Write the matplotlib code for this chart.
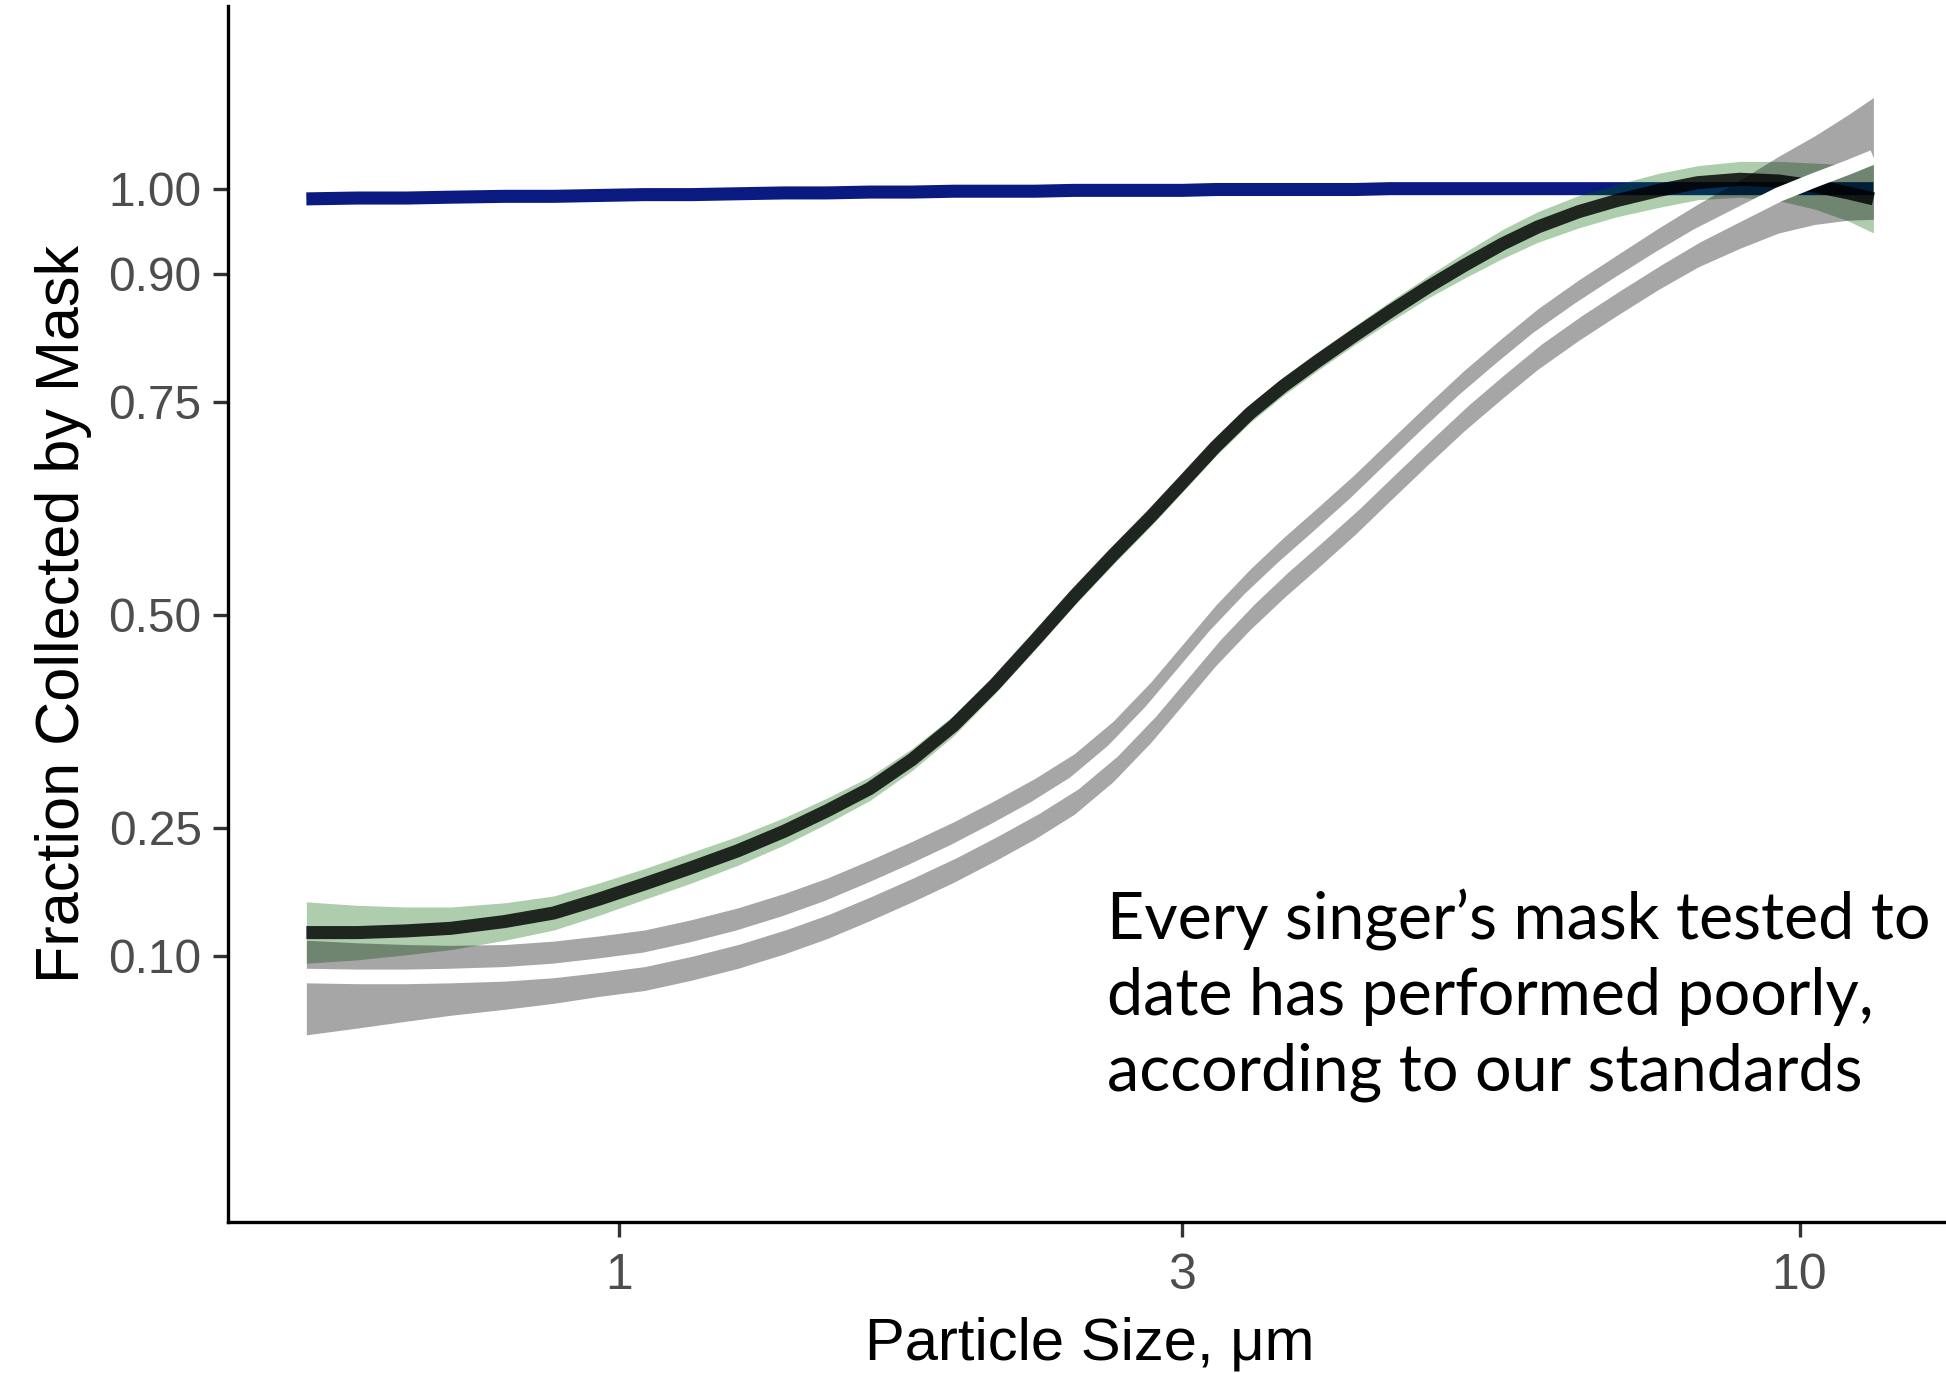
import matplotlib
matplotlib.use("Agg")
import matplotlib.pyplot as plt
import numpy as np
from matplotlib.ticker import FixedLocator, NullLocator

size = [0.543, 0.6, 0.66, 0.72, 0.8, 0.88, 0.96, 1.05, 1.15, 1.26,
        1.38, 1.5, 1.63, 1.77, 1.92, 2.08, 2.25, 2.43, 2.62, 2.82,
        3.0, 3.2, 3.42, 3.65, 3.9, 4.2, 4.5, 4.85, 5.2, 5.6,
        6.0, 6.5, 7.0, 7.6, 8.2, 8.9, 9.6, 10.3, 11.0, 11.55]

# reference respirator (blue)
blue = [0.988, 0.989, 0.989, 0.990, 0.991, 0.991, 0.992, 0.993, 0.993, 0.994,
        0.995, 0.995, 0.996, 0.996, 0.997, 0.997, 0.997, 0.998, 0.998, 0.998,
        0.998, 0.999, 0.999, 0.999, 0.999, 0.999, 1.000, 1.000, 1.000, 1.000,
        1.000, 1.000, 1.000, 1.000, 1.000, 1.000, 1.000, 1.000, 1.000, 1.000]

# standard mask: fit (black) and CI half width (green)
black = [0.127, 0.127, 0.129, 0.132, 0.140, 0.150, 0.166, 0.184, 0.203, 0.223,
         0.246, 0.270, 0.296, 0.330, 0.370, 0.418, 0.470, 0.522, 0.570, 0.615,
         0.655, 0.697, 0.736, 0.768, 0.797, 0.828, 0.856, 0.885, 0.910, 0.935,
         0.955, 0.973, 0.986, 0.998, 1.007, 1.011, 1.009, 1.003, 0.995, 0.988]
green_hw = [0.036, 0.032, 0.028, 0.025, 0.022, 0.020, 0.019, 0.018, 0.018, 0.017,
            0.016, 0.015, 0.014, 0.013, 0.012, 0.011, 0.011, 0.011, 0.011, 0.011,
            0.011, 0.011, 0.011, 0.011, 0.011, 0.011, 0.012, 0.013, 0.015, 0.017,
            0.018, 0.019, 0.019, 0.020, 0.020, 0.021, 0.023, 0.027, 0.033, 0.040]

# singer's masks: fit (white) and CI above / below (grey)
white = [0.076, 0.075, 0.075, 0.076, 0.078, 0.082, 0.088, 0.095, 0.107, 0.121,
         0.138, 0.156, 0.177, 0.199, 0.222, 0.247, 0.273, 0.302, 0.340, 0.386,
         0.430, 0.476, 0.518, 0.555, 0.590, 0.630, 0.670, 0.713, 0.752, 0.790,
         0.824, 0.858, 0.887, 0.918, 0.945, 0.970, 0.993, 1.010, 1.025, 1.037]
grey_up = [0.042, 0.040, 0.038, 0.036, 0.035, 0.035, 0.035, 0.035, 0.035, 0.035,
           0.035, 0.035, 0.035, 0.035, 0.035, 0.035, 0.035, 0.035, 0.035, 0.035,
           0.035, 0.035, 0.035, 0.035, 0.035, 0.035, 0.035, 0.035, 0.035, 0.035,
           0.035, 0.035, 0.035, 0.036, 0.037, 0.040, 0.045, 0.052, 0.062, 0.070]
grey_dn = [0.069, 0.060, 0.052, 0.046, 0.041, 0.038, 0.036, 0.036, 0.036, 0.036,
           0.036, 0.036, 0.036, 0.036, 0.036, 0.036, 0.036, 0.036, 0.036, 0.036,
           0.036, 0.036, 0.036, 0.036, 0.036, 0.036, 0.036, 0.036, 0.036, 0.036,
           0.036, 0.036, 0.036, 0.036, 0.037, 0.040, 0.045, 0.052, 0.062, 0.073]

y_ticks = [0.10, 0.25, 0.50, 0.75, 0.90, 1.00]
y_labels = ["0.10", "0.25", "0.50", "0.75", "0.90", "1.00"]
x_ticks = [1, 3, 10]
x_labels = ["1", "3", "10"]

note = "Every singer\u2019s mask tested to\ndate has performed poorly,\naccording to our standards"

black_a = np.array(black)
white_a = np.array(white)

fig = plt.figure(figsize=(19.46, 13.73), dpi=100)
ax = fig.add_axes([0.1172, 0.110, 0.886, 0.8856])

ax.plot(size, blue, color="#0a1a80", lw=9.4, solid_capstyle="butt", zorder=1)
ax.fill_between(size, black_a - np.array(green_hw), black_a + np.array(green_hw),
                color="#006400", alpha=0.32, lw=0, zorder=2)
ax.plot(size, black, color="black", alpha=0.82, lw=9.4, solid_capstyle="butt", zorder=3)
ax.fill_between(size, white_a - np.array(grey_dn), white_a + np.array(grey_up),
                color="black", alpha=0.35, lw=0, zorder=4)
ax.plot(size, white, color="white", lw=10.5, solid_capstyle="butt", zorder=5)

ax.set_xscale("log")
ax.set_xlim(0.4661, 13.47)
ax.set_ylim(-0.2126, 1.2143)
ax.xaxis.set_major_locator(FixedLocator(x_ticks))
ax.xaxis.set_minor_locator(NullLocator())
ax.set_xticklabels(x_labels)
ax.set_yticks(y_ticks)
ax.set_yticklabels(y_labels)

for side in ["top", "right"]:
    ax.spines[side].set_visible(False)
for side in ["left", "bottom"]:
    ax.spines[side].set_linewidth(2.4)
    ax.spines[side].set_color("black")

ax.tick_params(length=11, width=2.4, color="#333333", labelcolor="#4d4d4d")
ax.tick_params(axis="y", labelsize=34.5, pad=8)
ax.tick_params(axis="x", labelsize=36, pad=11)
for lab in ax.get_xticklabels() + ax.get_yticklabels():
    lab.set_family("Liberation Sans")

ax.set_xlabel("Particle Size, \u03bcm", fontsize=43, family="Liberation Sans", labelpad=13)
ax.set_ylabel("Fraction Collected by Mask", fontsize=44, family="Liberation Sans", labelpad=12)

# baseline of the last line of the note
ax.text(0.4661 * 10 ** ((1107 - 228) / 1180.2), -0.058, note, fontsize=46.5, family="Lato",
        ha="left", va="baseline", linespacing=1.34, zorder=6)

fig.savefig("out.png", dpi=100)
